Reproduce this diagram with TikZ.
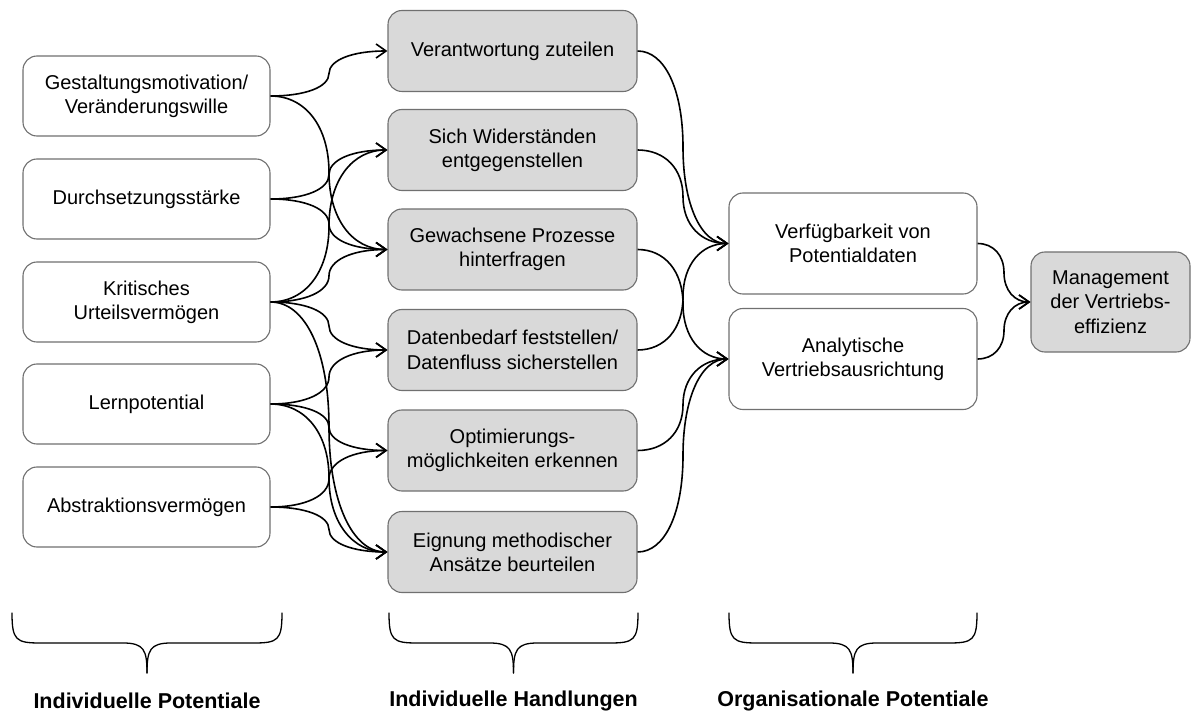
\documentclass[tikz,border=0pt]{standalone}
\usepackage{fontspec}
\setmainfont{Liberation Sans}
\usetikzlibrary{arrows.meta,calc}
\definecolor{boxgray}{RGB}{112,112,112}
\definecolor{fillgray}{RGB}{217,217,217}
\begin{document}
\begin{tikzpicture}[x=1pt,y=-1pt,
  box/.style={draw=boxgray, line width=1.1pt, rounded corners=14pt, align=center,
    font=\fontsize{20}{24.3}\selectfont, inner sep=0pt},
  lbox/.style={box, fill=white, minimum width=247pt, minimum height=80pt},
  mbox/.style={box, fill=fillgray, minimum width=249pt, minimum height=81pt},
  rbox/.style={box, fill=white, minimum width=248pt, minimum height=101pt},
  gbox/.style={box, fill=fillgray, minimum width=159pt, minimum height=100pt},
  conn/.style={line width=1.6pt, -{Straight Barb[length=10pt,width=14pt]},
    to path={let \p1=(\tikztostart), \p2=(\tikztotarget), \p3=($(\p1)!0.5!(\p2)$) in
      .. controls ($(\p1)!0.6!(\x3,\y1)$) and ($(\p3)!0.6!(\x3,\y1)$) .. (\p3)
      .. controls ($(\p3)!0.6!(\x3,\y2)$) and ($(\p2)!0.6!(\x3,\y2)$) .. (\tikztotarget) \tikztonodes}},
  bracestyle/.style={line width=1.3pt, line cap=round},
  lab/.style={font=\fontsize{21.5}{26}\selectfont\bfseries, inner sep=0pt},
  ]
\useasboundingbox (0,0) rectangle (1192,722);

% left column
\node[lbox] (L1) at (146.5,96)  {Gestaltungsmotivation/\\Veränderungswille};
\node[lbox] (L2) at (146.5,199) {Durchsetzungsstärke};
\node[lbox] (L3) at (146.5,302) {Kritisches\\Urteilsvermögen};
\node[lbox] (L4) at (146.5,404) {Lernpotential};
\node[lbox] (L5) at (146.5,507) {Abstraktionsvermögen};

% middle column
\node[mbox] (M1) at (512.5,51)  {Verantwortung zuteilen};
\node[mbox] (M2) at (512.5,150) {Sich Widerständen\\entgegenstellen};
\node[mbox] (M3) at (512.5,249.5) {Gewachsene Prozesse\\hinterfragen};
\node[mbox] (M4) at (512.5,350) {Datenbedarf feststellen/\\Datenfluss sicherstellen};
\node[mbox] (M5) at (512.5,450.5) {Optimierungs-\\möglichkeiten erkennen};
\node[mbox] (M6) at (512.5,552) {Eignung methodischer\\Ansätze beurteilen};

% right column
\node[rbox] (R1) at (853,243.5) {Verfügbarkeit von\\Potentialdaten};
\node[rbox] (R2) at (853,359) {Analytische\\Vertriebsausrichtung};

\node[gbox] (G) at (1110.5,302) {Management\\der Vertriebs-\\effizienz};

% connectors left -> middle
\draw[conn] (L1.east) to (M1.west);
\draw[conn] (L1.east) to (M3.west);
\draw[conn] (L2.east) to (M2.west);
\draw[conn] (L2.east) to (M3.west);
\draw[conn] (L3.east) to (M2.west);
\draw[conn] (L3.east) to (M3.west);
\draw[conn] (L3.east) to (M4.west);
\draw[conn] (L3.east) to (M6.west);
\draw[conn] (L4.east) to (M4.west);
\draw[conn] (L4.east) to (M5.west);
\draw[conn] (L4.east) to (M6.west);
\draw[conn] (L5.east) to (M5.west);
\draw[conn] (L5.east) to (M6.west);

% middle -> right
\draw[conn] (M1.east) to (R1.west);
\draw[conn] (M2.east) to (R1.west);
\draw[conn] (M4.east) to (R1.west);
\draw[conn] (M3.east) to (R2.west);
\draw[conn] (M5.east) to (R2.west);
\draw[conn] (M6.east) to (R2.west);

% right -> management
\draw[conn] (R1.east) to (G.west);
\draw[conn] (R2.east) to (G.west);

% braces
\foreach \a/\b in {12/282, 389/638, 729/977} {
  \pgfmathsetmacro{\m}{(\a+\b)/2}
  \draw[bracestyle] (\a,613) .. controls (\a,640) and (\a+4,643) .. (\a+28,643)
    -- (\m-24,643) .. controls (\m-3,643) and (\m,650) .. (\m,673);
  \draw[bracestyle] (\b,613) .. controls (\b,640) and (\b-4,643) .. (\b-28,643)
    -- (\m+24,643) .. controls (\m+3,643) and (\m,650) .. (\m,673);
}

\node[lab] (T1) at (147,701) {Individuelle Potentiale};
\node[lab] (T2) at (513.5,701) {Individuelle Handlungen};
\node[lab] (T3) at (853,701) {Organisationale Potentiale};
\end{tikzpicture}
\end{document}
